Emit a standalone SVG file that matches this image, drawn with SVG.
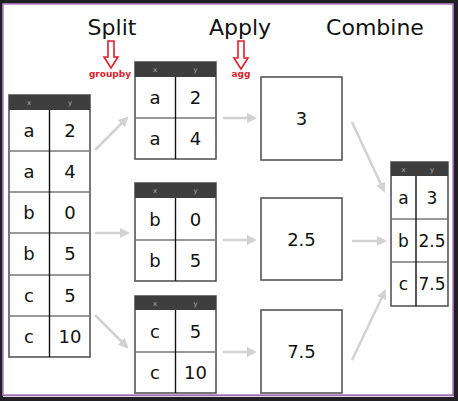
<svg xmlns="http://www.w3.org/2000/svg" width="458" height="401" viewBox="0 0 458 401">
<defs>
<style>
.title{font-family:"DejaVu Sans",sans-serif;font-size:22px;fill:#111;text-anchor:middle}
.cell{font-family:"DejaVu Sans",sans-serif;font-size:18px;fill:#111;text-anchor:middle}
.cells{font-family:"DejaVu Sans",sans-serif;font-size:17px;fill:#111;text-anchor:middle}
.hd{font-family:"DejaVu Sans",sans-serif;font-size:7px;fill:#aaa;text-anchor:middle}
.hdr{fill:#3e3e3e}
.tb{fill:#fff;stroke:#555;stroke-width:1.6}
.rl{stroke:#777;stroke-width:1.6}
.vl{stroke:#111;stroke-width:1.4}
.box{fill:#fff;stroke:#555;stroke-width:1.6}
.red{font-family:"DejaVu Sans",sans-serif;font-size:9px;font-weight:bold;fill:#e0202a;text-anchor:middle}
.rarrow{fill:#fff;stroke:#e0202a;stroke-width:1.6;stroke-linejoin:miter}
.con{stroke:#d2d2d2;stroke-width:2.5;fill:none;marker-end:url(#ah)}
</style>
<marker id="ah" viewBox="0 0 10 10" refX="8" refY="5" markerWidth="4" markerHeight="4" orient="auto" markerUnits="strokeWidth">
<path d="M0,0 L10,5 L0,10 z" fill="#d2d2d2"/>
</marker>
</defs>
<rect x="0" y="0" width="458" height="401" fill="#202024"/>
<rect x="3" y="4" width="450" height="391" fill="#fff" stroke="#b57fc9" stroke-width="1.6"/>
<line x1="3" y1="396.5" x2="454" y2="396.5" stroke="#e6d6ec" stroke-width="1"/>

<g id="titles">
<text class="title" x="112" y="35">Split</text>
<text class="title" x="240" y="35">Apply</text>
<text class="title" x="375" y="35">Combine</text>
</g>

<g id="groupby">
<path class="rarrow" d="M108,41 H114 V57 H118 L111,68 L104,57 H108 Z"/>
<text class="red" x="110" y="77">groupby</text>
</g>
<g id="agg">
<path class="rarrow" d="M238,41 H244 V58 H248 L241,69 L234,58 H238 Z"/>
<text class="red" x="241" y="77">agg</text>
</g>

<g id="source">
<rect class="tb" x="9" y="95" width="81" height="262"/>
<rect class="hdr" x="9" y="95" width="81" height="15"/>
<text class="hd" x="29" y="105">x</text><text class="hd" x="70" y="105">y</text>
<line class="rl" x1="9" y1="151" x2="90" y2="151"/>
<line class="rl" x1="9" y1="192" x2="90" y2="192"/>
<line class="rl" x1="9" y1="233" x2="90" y2="233"/>
<line class="rl" x1="9" y1="275" x2="90" y2="275"/>
<line class="rl" x1="9" y1="316" x2="90" y2="316"/>
<line class="vl" x1="49.5" y1="110" x2="49.5" y2="357"/>
<text class="cell" x="29" y="137">a</text><text class="cell" x="70" y="137">2</text>
<text class="cell" x="29" y="178">a</text><text class="cell" x="70" y="178">4</text>
<text class="cell" x="29" y="219">b</text><text class="cell" x="70" y="219">0</text>
<text class="cell" x="29" y="260">b</text><text class="cell" x="70" y="260">5</text>
<text class="cell" x="29" y="302">c</text><text class="cell" x="70" y="302">5</text>
<text class="cell" x="29" y="343">c</text><text class="cell" x="70" y="343">10</text>
</g>

<g id="group-a">
<rect class="tb" x="135" y="62" width="81" height="97"/>
<rect class="hdr" x="135" y="62" width="81" height="15"/>
<text class="hd" x="155" y="72">x</text><text class="hd" x="195.5" y="72">y</text>
<line class="rl" x1="135" y1="118" x2="216" y2="118"/>
<line class="vl" x1="175.5" y1="77" x2="175.5" y2="159"/>
<text class="cell" x="155" y="104">a</text><text class="cell" x="195.5" y="104">2</text>
<text class="cell" x="155" y="145">a</text><text class="cell" x="195.5" y="145">4</text>
</g>

<g id="group-b">
<rect class="tb" x="135" y="183" width="81" height="98"/>
<rect class="hdr" x="135" y="183" width="81" height="15"/>
<text class="hd" x="155" y="193">x</text><text class="hd" x="195.5" y="193">y</text>
<line class="rl" x1="135" y1="240" x2="216" y2="240"/>
<line class="vl" x1="175.5" y1="198" x2="175.5" y2="281"/>
<text class="cell" x="155" y="226">b</text><text class="cell" x="195.5" y="226">0</text>
<text class="cell" x="155" y="267">b</text><text class="cell" x="195.5" y="267">5</text>
</g>

<g id="group-c">
<rect class="tb" x="135" y="296" width="81" height="97"/>
<rect class="hdr" x="135" y="296" width="81" height="14"/>
<text class="hd" x="155" y="306">x</text><text class="hd" x="195.5" y="306">y</text>
<line class="rl" x1="135" y1="352" x2="216" y2="352"/>
<line class="vl" x1="175.5" y1="310" x2="175.5" y2="393"/>
<text class="cell" x="155" y="338">c</text><text class="cell" x="195.5" y="338">5</text>
<text class="cell" x="155" y="379">c</text><text class="cell" x="195.5" y="379">10</text>
</g>

<g id="result-a">
<rect class="box" x="261" y="77" width="81" height="83"/>
<text class="cell" x="301.5" y="125">3</text>
</g>
<g id="result-b">
<rect class="box" x="261" y="198" width="81" height="82"/>
<text class="cell" x="301.5" y="246">2.5</text>
</g>
<g id="result-c">
<rect class="box" x="261" y="310" width="81" height="83"/>
<text class="cell" x="301.5" y="358">7.5</text>
</g>

<g id="combined">
<rect class="tb" x="391" y="162" width="57" height="144"/>
<rect class="hdr" x="391" y="162" width="57" height="14"/>
<text class="hd" x="403.5" y="172">x</text><text class="hd" x="432" y="172">y</text>
<line class="rl" x1="391" y1="219" x2="448" y2="219"/>
<line class="rl" x1="391" y1="262" x2="448" y2="262"/>
<line class="vl" x1="416" y1="176" x2="416" y2="306"/>
<text class="cells" x="403.5" y="204">a</text><text class="cells" x="432" y="204">3</text>
<text class="cells" x="403.5" y="247">b</text><text class="cells" x="432" y="247">2.5</text>
<text class="cells" x="403.5" y="290">c</text><text class="cells" x="432" y="290">7.5</text>
</g>

<g id="connectors">
<line class="con" x1="95" y1="150" x2="127" y2="118"/>
<line class="con" x1="95" y1="233" x2="128" y2="233"/>
<line class="con" x1="95" y1="315" x2="127" y2="347"/>
<line class="con" x1="223" y1="118" x2="255" y2="118"/>
<line class="con" x1="223" y1="240" x2="255" y2="240"/>
<line class="con" x1="223" y1="352" x2="255" y2="352"/>
<line class="con" x1="352" y1="122" x2="384" y2="191"/>
<line class="con" x1="352" y1="241" x2="385" y2="241"/>
<line class="con" x1="352" y1="360" x2="385" y2="291"/>
</g>
</svg>
